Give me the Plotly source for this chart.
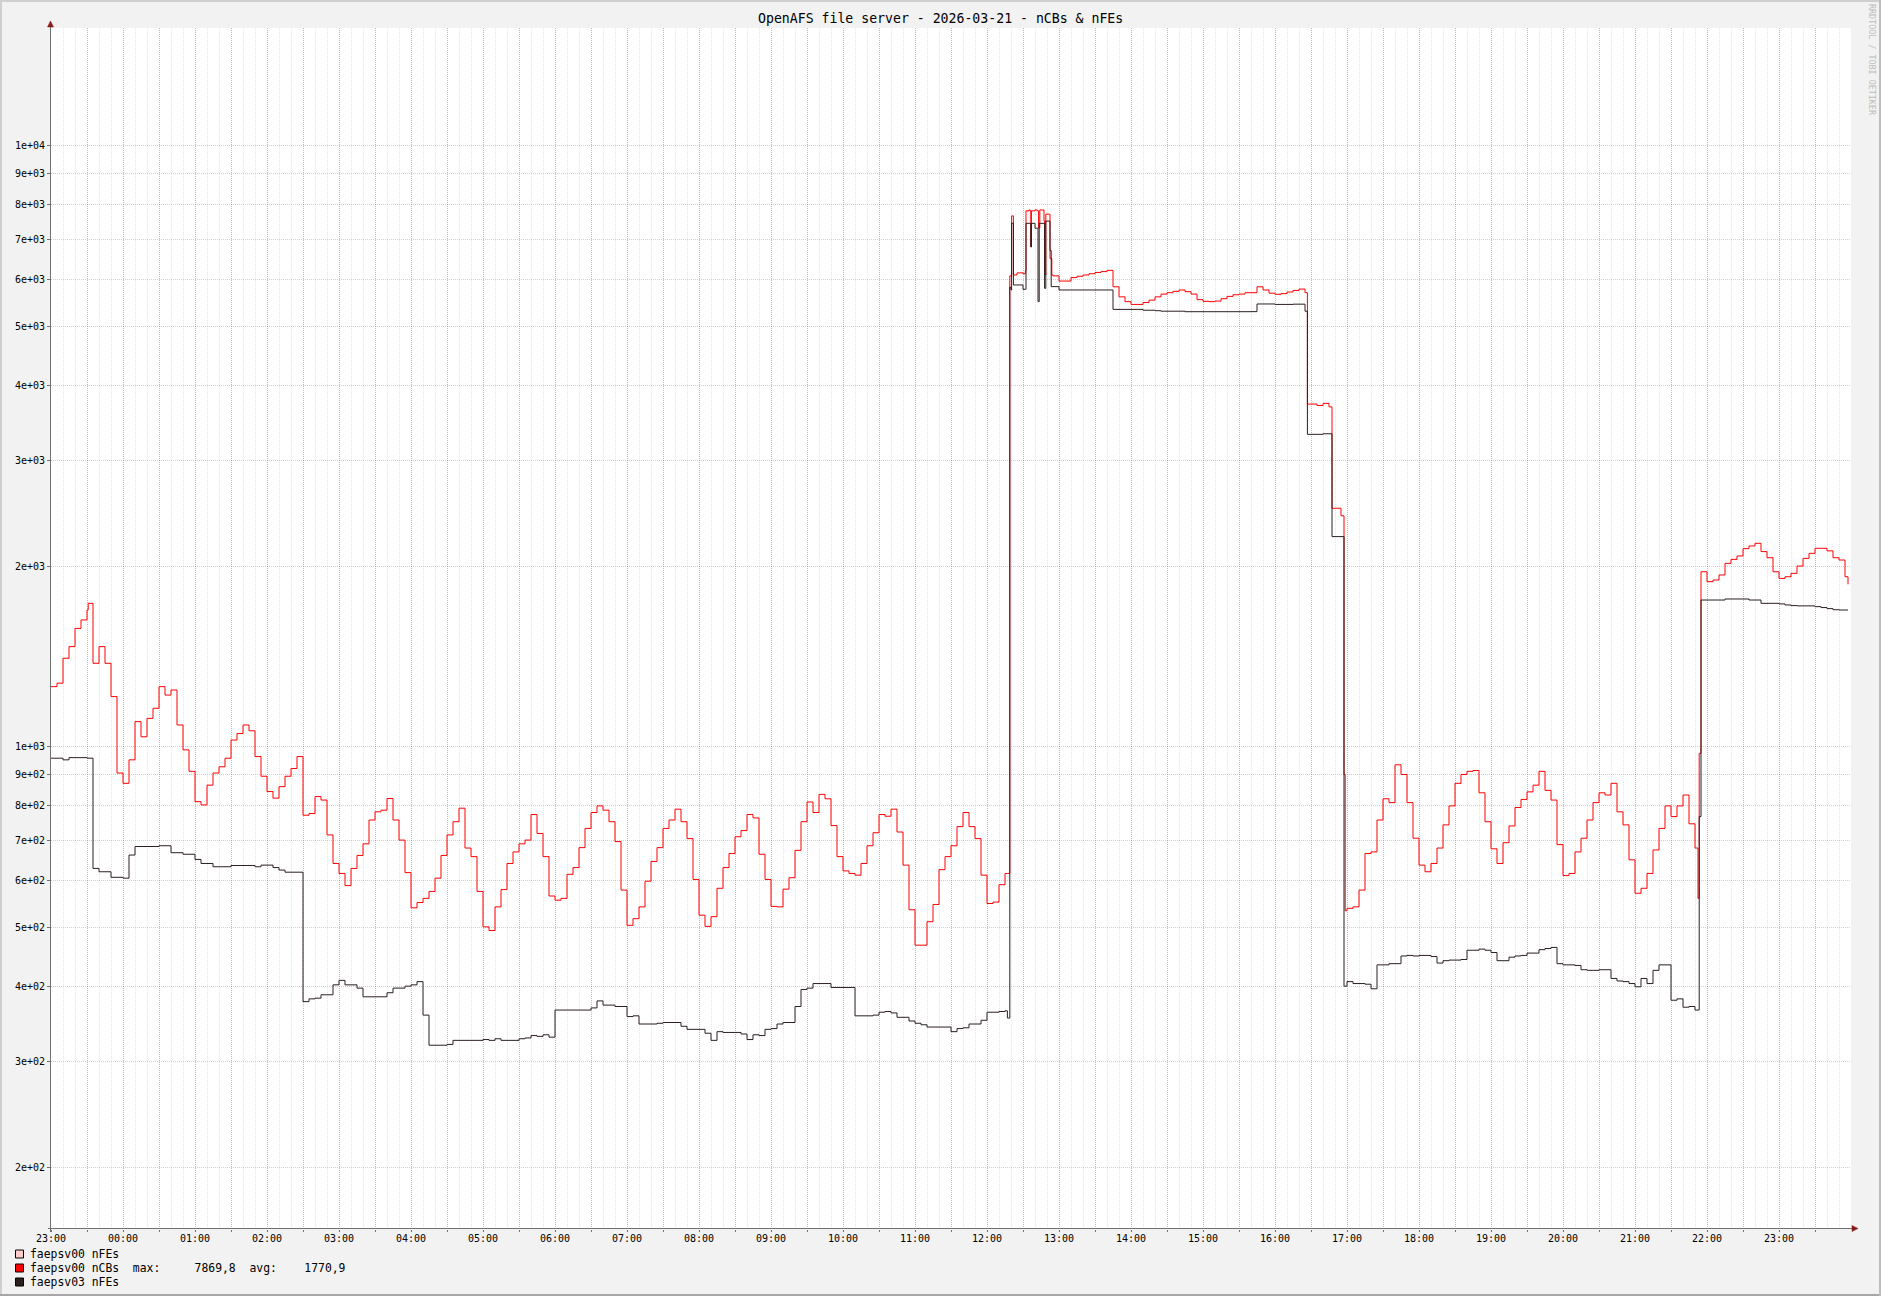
import plotly.graph_objects as go
import pandas as pd

# ---------------- data ----------------
START = "2026-03-20 23:00"
STEP_MIN = 5            # base sampling step in minutes
N_STEPS = 300

# faepsv00 nCBs (red), one value per 5 minutes from 23:00
red_ncbs = [
    1260, 1277, 1405, 1469, 1575, 1627, 1690, 1378, 1469, 1378,
    1213, 905, 870, 952, 1102, 1040, 1116, 1160, 1260, 1220,
    1244, 1088, 989, 911, 811, 801, 864, 905, 927, 958,
    1027, 1053, 1088, 1064, 964, 894, 843, 822, 859, 894,
    921, 964, 770, 775, 827, 816, 714, 640, 616, 588,
    628, 660, 690, 756, 780, 785, 821, 756, 700, 618,
    540, 551, 560, 575, 605, 660, 714, 751, 791, 679,
    657, 575, 502, 495, 542, 579, 640, 669, 690, 700,
    772, 718, 657, 565, 556, 560, 614, 630, 680, 732,
    778, 798, 785, 751, 696, 578, 505, 518, 542, 598,
    645, 680, 732, 756, 788, 751, 704, 602, 525, 503,
    522, 582, 630, 665, 709, 726, 772, 762, 663, 602,
    543, 542, 580, 606, 673, 751, 810, 778, 834, 820,
    740, 657, 622, 616, 612, 640, 685, 720, 772, 767,
    788, 722, 636, 536, 468, 468, 512, 547, 625, 657,
    685, 737, 778, 737, 704, 612, 549, 552, 590, 616,
    6080, 6150, 6130, 7826, 7826, 7826, 7700, 6080, 5960, 5960,
    6040, 6070, 6100, 6130, 6160, 6180, 6210, 5830, 5610, 5508,
    5450, 5450, 5490, 5540, 5610, 5670, 5700, 5730, 5760, 5723,
    5670, 5550, 5515, 5508, 5520, 5570, 5620, 5655, 5670, 5700,
    5700, 5830, 5760, 5690, 5665, 5680, 5715, 5750, 5780, 5700,
    3720, 3700, 3730, 3680, 2496, 2425, 539, 542, 578, 665,
    669, 756, 820, 808, 934, 900, 808, 705, 636, 620,
    640, 679, 742, 798, 870, 900, 911, 914, 839, 751,
    677, 640, 693, 739, 793, 818, 842, 864, 911, 847,
    816, 688, 611, 616, 669, 705, 756, 808, 839, 832,
    870, 780, 742, 649, 571, 582, 616, 674, 732, 798,
    766, 798, 832, 745, 679, 1957, 1884, 1896, 1933, 2021,
    2052, 2079, 2138, 2160, 2182, 2114, 2065, 1957, 1908, 1920,
    1945, 2000, 2060, 2100, 2141, 2141, 2120, 2065, 2047, 1920,
]
# extra detail points (minutes after 23:00, value) for spikes / steps
red_extra_min = [31, 797, 799, 800.5, 802, 812, 812.5, 816, 816.5, 817, 822, 823, 824,
                 827.5, 828, 829, 832, 832.5, 834, 1047, 1067.5, 1077.5, 1078.5,
                 1372.5, 1373.5, 1497.5]
red_extra_val = [1734, 616, 6080, 7650, 6100, 6200, 7800, 7800, 6800, 7800, 7800, 7300, 7826,
                 7500, 6100, 7700, 7700, 6500, 6100, 3720, 2496, 900, 534,
                 560, 976, 1865]

# faepsv03 nFEs (dark), one value per 5 minutes from 23:00
black_nfes = [
    958, 958, 952, 960, 960, 960, 958, 628, 620, 620,
    607, 607, 605, 661, 683, 683, 683, 683, 685, 685,
    667, 667, 663, 663, 650, 640, 640, 632, 632, 632,
    635, 635, 635, 635, 632, 636, 636, 630, 624, 619,
    619, 619, 377, 381, 382, 387, 387, 402, 409, 402,
    402, 397, 384, 384, 384, 384, 390, 397, 397, 400,
    402, 407, 358, 319, 319, 319, 320, 325, 325, 325,
    325, 325, 326, 325, 327, 325, 325, 325, 327, 328,
    331, 330, 332, 329, 365, 365, 365, 365, 365, 365,
    368, 378, 372, 372, 370, 370, 356, 357, 346, 346,
    346, 347, 348, 348, 348, 343, 339, 339, 339, 334,
    325, 336, 335, 335, 335, 333, 326, 332, 331, 339,
    340, 346, 348, 348, 370, 395, 397, 404, 404, 404,
    398, 398, 398, 398, 357, 357, 357, 358, 362, 363,
    361, 355, 355, 350, 347, 345, 342, 342, 342, 342,
    336, 340, 341, 346, 346, 351, 362, 362, 363, 364,
    5760, 5871, 5775, 7435, 7297, 7435, 7500, 5834, 5760, 5760,
    5760, 5760, 5760, 5760, 5760, 5760, 5760, 5347, 5347, 5347,
    5347, 5347, 5330, 5330, 5320, 5310, 5310, 5310, 5310, 5300,
    5300, 5300, 5300, 5300, 5300, 5300, 5300, 5300, 5300, 5300,
    5301, 5459, 5459, 5459, 5450, 5450, 5450, 5455, 5455, 5310,
    3313, 3313, 3320, 3320, 2239, 2239, 407, 404, 404, 403,
    396, 434, 434, 436, 436, 449, 450, 449, 450, 450,
    448, 437, 441, 442, 442, 443, 459, 459, 461, 459,
    455, 441, 441, 447, 449, 450, 454, 454, 460, 462,
    464, 436, 434, 434, 433, 426, 425, 425, 426, 426,
    412, 408, 407, 404, 399, 412, 404, 425, 434, 434,
    379, 381, 369, 370, 365, 1756, 1756, 1756, 1756, 1763,
    1763, 1763, 1763, 1756, 1756, 1734, 1734, 1734, 1730, 1723,
    1719, 1717, 1717, 1717, 1712, 1706, 1699, 1692, 1690, 1690,
]
black_extra_min = [797, 799, 800.5, 802, 812, 812.5, 816, 816.5, 817, 822, 822.5, 823.5,
                   827.5, 828, 829, 832, 832.5, 833.5, 1047, 1067.5, 1077.5,
                   1372.5, 1373.5, 1497.5]
black_extra_val = [354, 5820, 7435, 5871, 5775, 7435, 7435, 6790, 7435, 7297, 5508, 7435,
                   7435, 5797, 7500, 7500, 6700, 5834, 3313, 2239, 400,
                   365, 766, 1690]

# y tick labels
y_tick_vals = [200, 300, 400, 500, 600, 700, 800, 900,
               1000, 2000, 3000, 4000, 5000, 6000, 7000, 8000, 9000, 10000]
y_tick_text = ["2e+02", "3e+02", "4e+02", "5e+02", "6e+02", "7e+02", "8e+02", "9e+02",
               "1e+03", "2e+03", "3e+03", "4e+03", "5e+03", "6e+03", "7e+03", "8e+03", "9e+03", "1e+04"]

legend_names = ["faepsv00 nFEs", "faepsv00 nCBs", "faepsv03 nFEs"]
legend_colors = ["#FFCCCC", "#FF0000", "#2B1F1F"]
ncbs_max_text = "7869,8"
ncbs_avg_text = "1770,9"
title_text = "OpenAFS file server - 2026-03-21 - nCBs & nFEs"

# ---------------- build ----------------
t0 = pd.Timestamp(START)
base_min = [i * STEP_MIN for i in range(N_STEPS)]


def merged(base_vals, extra_min, extra_val):
    pts = dict(zip(base_min, base_vals))
    pts.update(zip(extra_min, extra_val))
    keys = sorted(pts)
    return [t0 + pd.Timedelta(minutes=k) for k in keys], [pts[k] for k in keys]


rx, ry = merged(red_ncbs, red_extra_min, red_extra_val)
bx, by = merged(black_nfes, black_extra_min, black_extra_val)

W, H = 1881, 1296
L, R, T, B = 51, 30, 28, 67
PW, PH = W - L - R, H - T - B


def px(x):
    return (x - L) / PW


def py(y):
    return (H - B - y) / PH


MONO = "DejaVu Sans Mono"
fig = go.Figure()
fig.add_trace(go.Scatter(x=rx, y=ry, mode="lines", name=legend_names[1],
                         line=dict(color=legend_colors[1], width=1, shape="hv"),
                         hoverinfo="skip"))
fig.add_trace(go.Scatter(x=bx, y=by, mode="lines", name=legend_names[2],
                         line=dict(color=legend_colors[2], width=1, shape="hv"),
                         hoverinfo="skip"))

x_tick_vals = [t0 + pd.Timedelta(minutes=30 * i) for i in range(50)]
x_tick_text = [t.strftime("%H:%M") if t.minute == 0 else "" for t in x_tick_vals]

MGRID = "rgba(222,48,48,0.30)"
GRID = "rgba(143,143,143,0.24)"
AXIS = "#707070"
ARROW = "#8B1A1A"

fig.update_layout(
    width=W, height=H, autosize=False,
    margin=dict(l=L, r=R, t=T, b=B, pad=0),
    paper_bgcolor="#F2F2F2", plot_bgcolor="#FFFFFF",
    showlegend=False,
    font=dict(family=MONO, color="#000000"),
    xaxis=dict(
        type="date",
        range=[t0, t0 + pd.Timedelta(hours=25)],
        tickmode="array", tickvals=x_tick_vals, ticktext=x_tick_text,
        showgrid=True, gridcolor=MGRID, griddash="1px,1px", gridwidth=1,
        ticks="outside", ticklen=2, tickwidth=1, tickcolor=AXIS,
        ticklabelstandoff=-2,
        tickfont=dict(family=MONO, size=10, color="#000000"),
        showline=False, zeroline=False, fixedrange=True,
        minor=dict(dtick=600000, tick0=START, showgrid=True, gridcolor=GRID,
                   griddash="1px,1px", gridwidth=1, ticks=""),
    ),
    yaxis=dict(
        type="log",
        range=[2.1980, 4.1963],
        tickmode="array", tickvals=y_tick_vals, ticktext=y_tick_text,
        showgrid=True, gridcolor=MGRID, griddash="1px,1px", gridwidth=1,
        ticks="outside", ticklen=3, tickwidth=1, tickcolor=AXIS,
        tickfont=dict(family=MONO, size=10, color="#000000"),
        showline=False, zeroline=False, fixedrange=True,
    ),
)

shapes = []
# 3D frame
shapes.append(dict(type="rect", xref="paper", yref="paper", x0=px(0), x1=px(W), y0=py(0), y1=py(2),
                   fillcolor="#CFCFCF", line=dict(width=0), layer="below"))
shapes.append(dict(type="rect", xref="paper", yref="paper", x0=px(0), x1=px(2), y0=py(0), y1=py(H),
                   fillcolor="#CFCFCF", line=dict(width=0), layer="below"))
shapes.append(dict(type="rect", xref="paper", yref="paper", x0=px(0), x1=px(W), y0=py(H - 2), y1=py(H),
                   fillcolor="#A6A6A6", line=dict(width=0), layer="below"))
shapes.append(dict(type="rect", xref="paper", yref="paper", x0=px(W - 2), x1=px(W), y0=py(0), y1=py(H),
                   fillcolor="#BDBDBD", line=dict(width=0), layer="below"))
# axes
shapes.append(dict(type="line", xref="paper", yref="paper", x0=px(50.5), x1=px(50.5), y0=py(1232), y1=py(24),
                   line=dict(color=AXIS, width=1)))
shapes.append(dict(type="line", xref="paper", yref="paper", x0=px(48), x1=px(1853), y0=py(1228.5), y1=py(1228.5),
                   line=dict(color=AXIS, width=1)))
# arrows
shapes.append(dict(type="path", xref="paper", yref="paper",
                   path=f"M {px(50.5)} {py(21)} L {px(47.5)} {py(27)} L {px(53.5)} {py(27)} Z",
                   fillcolor=ARROW, line=dict(color=ARROW, width=0.5)))
shapes.append(dict(type="path", xref="paper", yref="paper",
                   path=f"M {px(1858)} {py(1228.5)} L {px(1852)} {py(1225.5)} L {px(1852)} {py(1231.5)} Z",
                   fillcolor=ARROW, line=dict(color=ARROW, width=0.5)))

annotations = []
# title
annotations.append(dict(text=title_text, xref="paper", yref="paper", x=px(940.5), y=py(18.5),
                        xanchor="center", yanchor="middle", showarrow=False,
                        font=dict(family=MONO, size=13.2, color="#000000")))
# watermark
annotations.append(dict(text="RRDTOOL / TOBI OETIKER", xref="paper", yref="paper", x=px(1872), y=py(60),
                        xanchor="center", yanchor="middle", showarrow=False, textangle=90,
                        font=dict(family=MONO, size=8.4, color="#BDBDBD")))

# legend
NB = "\u00a0"
legend_texts = [
    legend_names[0],
    legend_names[1] + NB * 2 + "max:" + NB * 5 + ncbs_max_text + NB * 2 + "avg:" + NB * 4 + ncbs_avg_text,
    legend_names[2],
]
legend_y = [1254, 1268, 1282]
for name_txt, col, yc in zip(legend_texts, legend_colors, legend_y):
    shapes.append(dict(type="rect", xref="paper", yref="paper",
                       x0=px(15.5), x1=px(23.5), y0=py(yc - 4), y1=py(yc + 4),
                       fillcolor=col, line=dict(color="#000000", width=1)))
    annotations.append(dict(text=name_txt, xref="paper", yref="paper", x=px(28), y=py(yc),
                            xanchor="left", yanchor="middle", showarrow=False,
                            font=dict(family=MONO, size=11.4, color="#000000")))

fig.update_layout(shapes=shapes, annotations=annotations)

fig.write_html("out.html", include_plotlyjs=True, config={"displayModeBar": False},
               post_script="document.body.style.margin='0';document.body.style.overflow='hidden';")
